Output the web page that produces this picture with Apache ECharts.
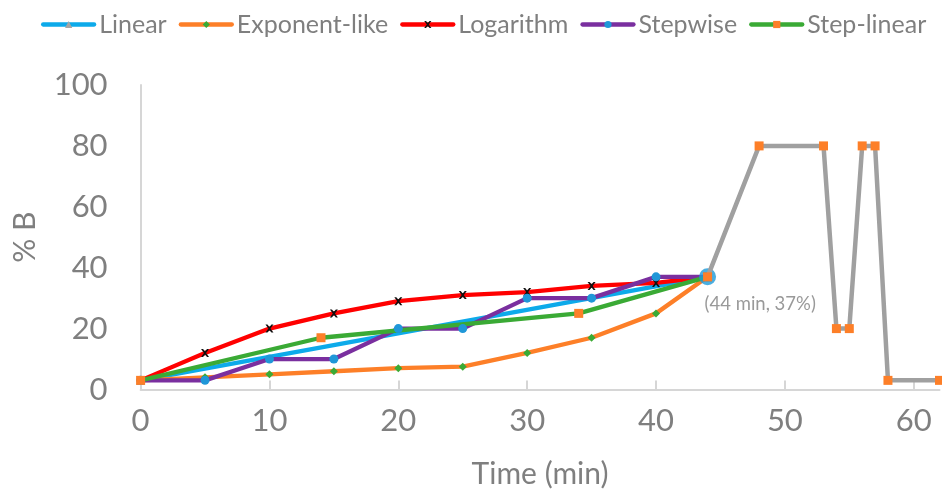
<!DOCTYPE html>
<html>
<head>
<meta charset="utf-8">
<script src="https://cdn.jsdelivr.net/npm/echarts@6/dist/echarts.min.js"></script>
<style>
  html, body { margin: 0; padding: 0; background: #ffffff; }
  #chart { width: 942px; height: 502px; }
</style>
</head>
<body>
<div id="chart"></div>
<script>
// Axis ticks
const timeTicks = [0, 10, 20, 30, 40, 50, 60];
const percentTicks = [0, 20, 40, 60, 80, 100];

// Gradient profiles: [time (min), %B]
const linearPts = [[0, 3], [44, 37]];
const exponentPts = [[0, 3], [5, 4], [10, 5], [15, 6], [20, 7], [25, 7.5], [30, 12], [35, 17], [40, 25], [44, 37]];
const logPts = [[0, 3], [5, 12], [10, 20], [15, 25], [20, 29], [25, 31], [30, 32], [35, 34], [40, 35], [44, 37]];
const stepwisePts = [[0, 3], [5, 3], [10, 10], [15, 10], [20, 20], [25, 20], [30, 30], [35, 30], [40, 37], [44, 37]];
const stepLinearPts = [[0, 3], [14, 17], [34, 25], [44, 37]];

// Common wash / re-equilibration segment after the gradient
const washPts = [[44, 37], [48, 80], [53, 80], [54, 20], [55, 20], [56, 80], [57, 80], [58, 3], [62, 3]];

// Point where all gradients meet
const junctionPts = [[44, 37]];
const junctionLabel = '(44 min, 37%)';

const seriesNames = ['Linear', 'Exponent-like', 'Logarithm', 'Stepwise', 'Step-linear'];

const FONT = 'Lato, "Open Sans", sans-serif';
const GREY_TEXT = '#7f7f7f';
const AXIS_GREY = '#d6d6d6';
const CROSS = 'path://M0,0 L2.5,0 L5,3 L7.5,0 L10,0 L6.3,5 L10,10 L7.5,10 L5,7 L2.5,10 L0,10 L3.7,5 Z';

function profile(name, data, color, symbol, symbolSize, symbolColor) {
  return {
    name: name,
    type: 'line',
    data: data,
    symbol: symbol,
    symbolSize: symbolSize,
    showAllSymbol: true,
    lineStyle: { color: color, width: 4.3, join: 'round', cap: 'round' },
    itemStyle: { color: symbolColor, borderWidth: 0 },
    emphasis: { disabled: true },
    z: 2
  };
}

const chart = echarts.init(document.getElementById('chart'), null, { renderer: 'canvas' });

chart.setOption({
  animation: false,
  backgroundColor: '#ffffff',
  textStyle: { fontFamily: FONT },
  legend: {
    data: seriesNames,
    left: 36,
    top: 7,
    itemWidth: 51,
    itemHeight: 9,
    itemGap: 12,
    lineStyle: { width: 'inherit' },
    textStyle: { color: GREY_TEXT, fontSize: 25, fontFamily: FONT }
  },
  grid: { left: 140.6, right: 2.5, top: 85, bottom: 112.5, containLabel: false },
  xAxis: {
    type: 'value',
    min: 0,
    max: 62,
    interval: 10,
    name: 'Time (min)',
    nameLocation: 'middle',
    nameGap: 70,
    nameTextStyle: { color: GREY_TEXT, fontSize: 30, fontFamily: FONT },
    axisLine: { show: true, lineStyle: { color: AXIS_GREY, width: 2 } },
    axisTick: { show: true, inside: true, length: 9, customValues: timeTicks, lineStyle: { color: AXIS_GREY, width: 2 } },
    axisLabel: { color: GREY_TEXT, fontSize: 31, fontFamily: FONT, margin: 16, customValues: timeTicks },
    splitLine: { show: false }
  },
  yAxis: {
    type: 'value',
    min: 0,
    max: 100,
    interval: 20,
    name: '% B',
    nameLocation: 'middle',
    nameGap: 100,
    nameTextStyle: { color: GREY_TEXT, fontSize: 30, fontFamily: FONT },
    axisLine: { show: true, lineStyle: { color: AXIS_GREY, width: 2 } },
    axisTick: { show: false },
    axisLabel: { color: GREY_TEXT, fontSize: 31, fontFamily: FONT, margin: 33, customValues: percentTicks },
    splitLine: { show: false }
  },
  series: [
    profile('Linear', linearPts, '#0daaea', 'triangle', 9, '#a5a5a5'),
    profile('Exponent-like', exponentPts, '#fd7f28', 'diamond', 8, '#3aaa35'),
    profile('Logarithm', logPts, '#ff0000', CROSS, 8, '#111111'),
    profile('Stepwise', stepwisePts, '#7a2f9f', 'circle', 9, '#1f97d8'),
    profile('Step-linear', stepLinearPts, '#3aaa35', 'rect', 9, '#fd7f28'),
    {
      name: 'junction',
      type: 'scatter',
      data: junctionPts,
      symbol: 'circle',
      symbolSize: 17,
      itemStyle: { color: '#1e9ad8' },
      label: {
        show: true,
        formatter: junctionLabel,
        position: 'bottom',
        align: 'left',
        offset: [-3, 4],
        color: GREY_TEXT,
        fontSize: 18.5,
        fontFamily: FONT
      },
      emphasis: { disabled: true },
      z: 3
    },
    {
      name: 'wash',
      type: 'line',
      data: washPts,
      symbol: 'rect',
      symbolSize: 9,
      showAllSymbol: true,
      lineStyle: { color: '#a0a0a0', width: 4.5, join: 'round' },
      itemStyle: { color: '#fd7f28', borderWidth: 0 },
      emphasis: { disabled: true },
      z: 4
    }
  ]
});
</script>
</body>
</html>
